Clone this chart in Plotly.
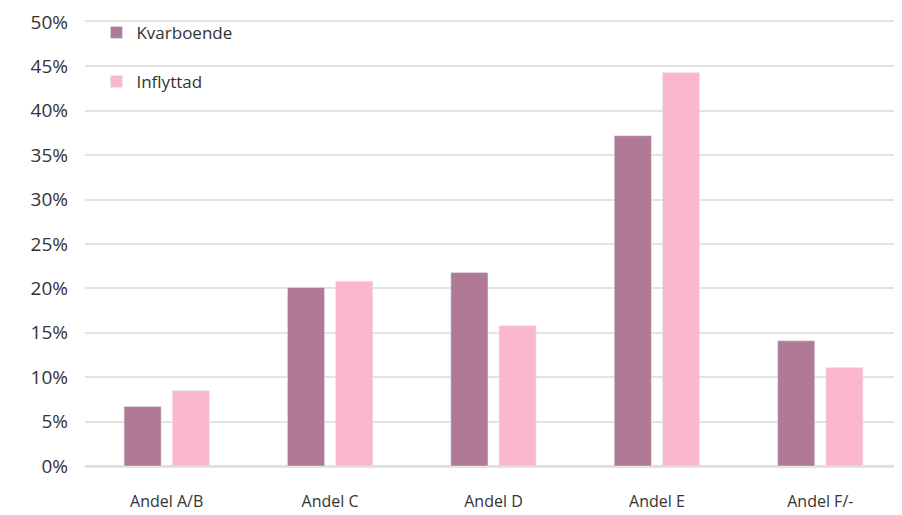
import plotly.graph_objects as go

categories = ["Andel A/B", "Andel C", "Andel D", "Andel E", "Andel F/-"]
kvarboende = [0.067, 0.201, 0.218, 0.372, 0.141]
inflyttad = [0.085, 0.208, 0.158, 0.443, 0.111]
y_ticks = [i / 100 for i in range(0, 55, 5)]

fig = go.Figure()
fig.add_trace(go.Bar(x=categories, y=kvarboende, name="Kvarboende",
                     marker_color="#b07a97", legendgroup="a"))
fig.add_trace(go.Bar(x=categories, y=inflyttad, name="Inflyttad",
                     marker_color="#fbb7d0", legendgroup="b"))

# page body has an 8px margin, so the figure is sized to fit inside it
fig.update_layout(
    width=894, height=507,
    paper_bgcolor="white", plot_bgcolor="white",
    font=dict(family="Open Sans, sans-serif", color="#333333"),
    margin=dict(l=77, r=0, t=14, b=49),
    barmode="group", bargap=0.41, bargroupgap=0.23,
    legend=dict(x=0.014, y=1.016, xanchor="left", yanchor="top",
                font=dict(size=17), tracegroupgap=24,
                bgcolor="rgba(0,0,0,0)", itemwidth=30),
    xaxis=dict(tickfont=dict(size=16), ticks="", ticklabelstandoff=20,
               automargin=False, showline=True, mirror=True,
               linecolor="#e3e3e3", linewidth=1.5),
    yaxis=dict(range=[0, 0.5], tickvals=y_ticks, tickformat=".0%",
               tickfont=dict(size=19), gridcolor="#e3e3e3", gridwidth=1.5,
               zeroline=True, zerolinecolor="#dcdcdc", zerolinewidth=1.5,
               ticklabelstandoff=16, automargin=False,
               ticklabeloverflow="allow"),
)

fig.write_html("out.html")
